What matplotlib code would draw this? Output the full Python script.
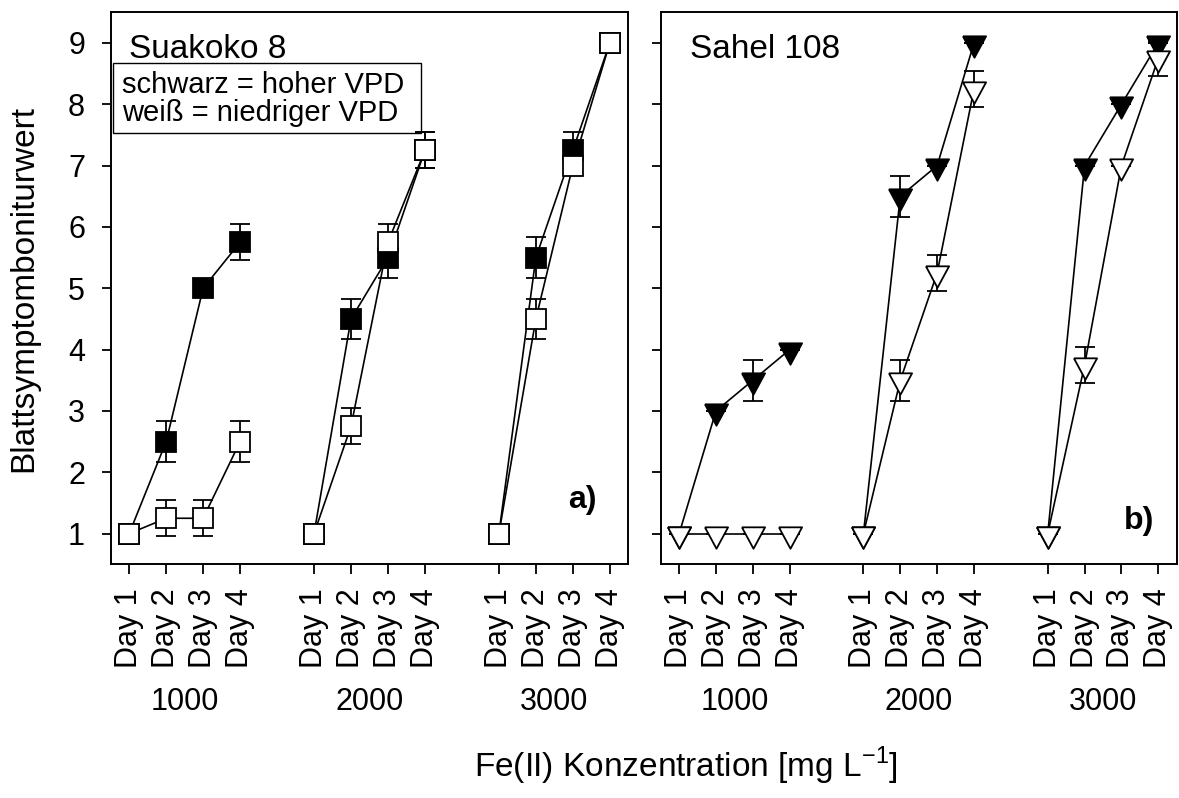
import matplotlib
matplotlib.use("Agg")
import matplotlib.pyplot as plt
from matplotlib.patches import Rectangle
from matplotlib.transforms import blended_transform_factory

plt.rcParams['font.family'] = ['Liberation Sans', 'DejaVu Sans']
plt.rcParams['mathtext.fontset'] = 'custom'
plt.rcParams['mathtext.rm'] = 'Liberation Sans'

days = ["Day 1", "Day 2", "Day 3", "Day 4"]
concs = ["1000", "2000", "3000"]

# Suakoko 8 (squares), one row per concentration
suak_high = [[1, 2.5, 5, 5.75], [1, 4.5, 5.5, 7.25], [1, 5.5, 7.25, 9]]
suak_high_se = [[0, .33, 0, .29], [0, .33, .33, .29], [0, .33, .29, 0]]
suak_low = [[1, 1.25, 1.25, 2.5], [1, 2.75, 5.75, 7.25], [1, 4.5, 7, 9]]
suak_low_se = [[0, .29, .29, .33], [0, .29, .29, .29], [0, .33, 0, 0]]

# Sahel 108 (triangles)
sahel_high = [[1, 3, 3.5, 4], [1, 6.5, 7, 9], [1, 7, 8, 9]]
sahel_high_se = [[0, 0, .33, 0], [0, .33, 0, 0], [0, 0, 0, 0]]
sahel_low = [[1, 1, 1, 1], [1, 3.5, 5.25, 8.25], [1, 3.75, 7, 8.75]]
sahel_low_se = [[0, 0, 0, 0], [0, .33, .29, .29], [0, .29, 0, .29]]

# R-style down triangle, sits a bit lower than its point
tri_down = [(-1, 0.62), (1, 0.62), (0, -1.23), (-1, 0.62)]


def xpos(g):
    return [g * 5 + d + 1 for d in range(len(days))]


def draw_panel(ax, high, high_se, low, low_se, marker, ms):
    for g in range(len(concs)):
        x = xpos(g)
        for vals, se, fc in ((high, high_se, 'black'), (low, low_se, 'white')):
            ax.plot(x, vals[g], color='black', lw=1.2, zorder=1)
            ax.errorbar(x, vals[g], yerr=se[g], fmt='none', ecolor='black',
                        elinewidth=1.3, capsize=7, capthick=1.3, zorder=2)
            ax.plot(x, vals[g], ls='none', marker=marker, ms=ms, mfc=fc,
                    mec='black', mew=1.3, zorder=3)
    ticks = [p for g in range(len(concs)) for p in xpos(g)]
    ax.set_xticks(ticks)
    ax.set_xticklabels(days * len(concs), rotation=90, fontsize=22)
    ax.set_xlim(0.5, 14.5)
    ax.set_ylim(0.5, 9.5)
    ax.set_yticks(range(1, 10))
    ax.tick_params(axis='x', length=7, width=1.3, pad=10)
    ax.tick_params(axis='y', length=6.5, width=1.3, pad=12, labelsize=22)
    for s in ax.spines.values():
        s.set_linewidth(1.4)
    tr = blended_transform_factory(ax.transData, ax.figure.transFigure)
    for g, c in enumerate(concs):
        ax.text(sum(xpos(g)) / 4, 0.12, c, transform=tr, ha='center',
                va='center', fontsize=22)


fig = plt.figure(figsize=(11.79, 7.98), dpi=100)
ax1 = fig.add_axes([0.0939, 0.2929, 0.439, 0.6917])
ax2 = fig.add_axes([0.5604, 0.2929, 0.4377, 0.6917])

draw_panel(ax1, suak_high, suak_high_se, suak_low, suak_low_se, 's', 14.6)
draw_panel(ax2, sahel_high, sahel_high_se, sahel_low, sahel_low_se, tri_down, 20.5)
ax2.set_yticklabels([])

ax1.text(1.0, 8.76, "Suakoko 8", fontsize=24, va='baseline')
ax2.text(1.3, 8.76, "Sahel 108", fontsize=24, va='baseline')
ax1.add_patch(Rectangle((0.57, 7.535), 8.33, 1.145, fill=False,
                        ec='black', lw=1, zorder=4))
ax1.text(0.8, 8.19, "schwarz = hoher VPD", fontsize=21, va='baseline')
ax1.text(0.8, 7.72, "weiß = niedriger VPD", fontsize=21, va='baseline')
ax1.text(13.65, 1.55, "a)", fontsize=23, fontweight='bold', ha='right', va='center')
ax2.text(13.9, 1.2, "b)", fontsize=23, fontweight='bold', ha='right', va='center')

fig.text(0.02, 0.639, "Blattsymptomboniturwert", rotation=90, fontsize=24,
         ha='center', va='center')
fig.text(0.582, 0.04, "Fe(II) Konzentration [mg L$^{-1}$]", fontsize=24,
         ha='center', va='center')

fig.savefig("out.png", dpi=100)
